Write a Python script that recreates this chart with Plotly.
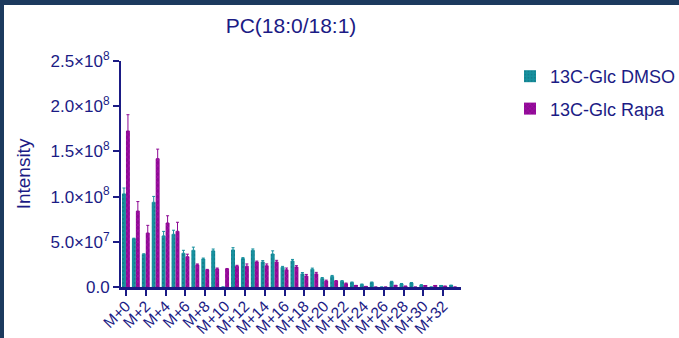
import plotly.graph_objects as go

categories = [f"M+{i}" for i in range(34)]
dmso = [1.03e8, 0.535e8, 0.362e8, 0.937e8, 0.565e8, 0.583e8, 0.373e8, 0.406e8, 0.31e8, 0.40e8,
        0.0, 0.41e8, 0.315e8, 0.406e8, 0.277e8, 0.365e8, 0.218e8, 0.288e8, 0.145e8, 0.196e8,
        0.095e8, 0.118e8, 0.065e8, 0.05e8, 0.028e8, 0.05e8, 0.0, 0.058e8, 0.035e8, 0.046e8,
        0.022e8, 0.0, 0.015e8, 0.018e8]
dmso_err = [0.065e8, 0.005e8, 0.005e8, 0.065e8, 0.05e8, 0.045e8, 0.033e8, 0.035e8, 0.01e8, 0.02e8,
            0.0, 0.025e8, 0.01e8, 0.015e8, 0.015e8, 0.035e8, 0.01e8, 0.017e8, 0.015e8, 0.013e8,
            0.01e8, 0.01e8, 0.005e8, 0.005e8, 0.005e8, 0.005e8, 0.0, 0.005e8, 0.004e8, 0.004e8,
            0.003e8, 0.0, 0.002e8, 0.002e8]
rapa = [1.726e8, 0.84e8, 0.597e8, 1.42e8, 0.708e8, 0.616e8, 0.335e8, 0.245e8, 0.19e8, 0.20e8,
        0.20e8, 0.23e8, 0.23e8, 0.277e8, 0.235e8, 0.277e8, 0.19e8, 0.221e8, 0.122e8, 0.145e8,
        0.066e8, 0.066e8, 0.037e8, 0.015e8, 0.005e8, 0.0, 0.0, 0.016e8, 0.008e8, 0.0,
        0.012e8, 0.015e8, 0.008e8, 0.0]
rapa_err = [0.18e8, 0.105e8, 0.085e8, 0.105e8, 0.08e8, 0.10e8, 0.028e8, 0.01e8, 0.005e8, 0.01e8,
            0.005e8, 0.01e8, 0.025e8, 0.01e8, 0.02e8, 0.018e8, 0.02e8, 0.015e8, 0.017e8, 0.017e8,
            0.01e8, 0.005e8, 0.007e8, 0.003e8, 0.002e8, 0.0, 0.0, 0.003e8, 0.002e8, 0.0,
            0.002e8, 0.002e8, 0.002e8, 0.0]
x_tickvals = categories[::2]
y_tickvals = [0, 0.5e8, 1.0e8, 1.5e8, 2.0e8, 2.5e8]
y_ticktext = ["0.0", "5.0×10<sup>7</sup>", "1.0×10<sup>8</sup>", "1.5×10<sup>8</sup>",
              "2.0×10<sup>8</sup>", "2.5×10<sup>8</sup>"]

NAVY = "#1b1b85"
FONT = "Liberation Sans, Arial, sans-serif"
TEAL = "#17909e"
PURPLE = "#8e0a94"

fig = go.Figure()
fig.add_trace(go.Bar(
    x=categories, y=dmso, name="13C-Glc DMSO", legendgroup="a",
    marker=dict(color=TEAL, line=dict(width=0),
                pattern=dict(shape=".", fgcolor="#0d6f7c", size=4, solidity=0.3)),
    error_y=dict(type="data", array=dmso_err, arrayminus=[0] * len(dmso_err), symmetric=False,
                 color=TEAL, thickness=1, width=1.5),
))
fig.add_trace(go.Bar(
    x=categories, y=rapa, name="13C-Glc Rapa", legendgroup="b",
    marker=dict(color=PURPLE, line=dict(width=0),
                pattern=dict(shape="x", fgcolor="#c818c8", size=4, solidity=0.3)),
    error_y=dict(type="data", array=rapa_err, arrayminus=[0] * len(rapa_err), symmetric=False,
                 color=PURPLE, thickness=1, width=1.5),
))

W, H = 679, 338
L, R, T, B = 121, 218, 61, 51
pw, ph = W - L - R, H - T - B
def px(xp):
    return (xp - L) / pw
def py(yp):
    return 1 - (yp - T) / ph

BORDER = "#1c3a5e"
shapes = [
    dict(type="rect", xref="paper", yref="paper", x0=px(0), x1=px(W), y0=py(5), y1=py(0),
         fillcolor=BORDER, line=dict(width=0), layer="above"),
    dict(type="rect", xref="paper", yref="paper", x0=px(0), x1=px(4), y0=py(H), y1=py(0),
         fillcolor=BORDER, line=dict(width=0), layer="above"),
]

fig.update_layout(
    width=W, height=H,
    margin=dict(l=L, r=R, t=T, b=B, pad=0, autoexpand=False),
    paper_bgcolor="white", plot_bgcolor="white",
    font=dict(family=FONT, color=NAVY, size=17),
    title=dict(text="PC(18:0/18:1)", xref="paper", x=0.5, xanchor="center",
               yref="container", y=1 - 26 / H, yanchor="middle",
               font=dict(size=21, color=NAVY)),
    barmode="group", bargap=0.2, bargroupgap=0,
    showlegend=True,
    legend=dict(x=px(510), y=py(58), xanchor="left", yanchor="top", font=dict(size=18, color=NAVY),
                traceorder="grouped", tracegroupgap=6, bgcolor="rgba(0,0,0,0)"),
    shapes=shapes,
    xaxis=dict(type="category", range=[-0.5, 33.8], tickmode="array", tickvals=x_tickvals,
               ticktext=x_tickvals, tickangle=-45, ticks="outside", ticklen=6, tickwidth=2,
               tickcolor=NAVY, showline=True, linecolor=NAVY, linewidth=3, showgrid=False,
               automargin=False, ticklabelstandoff=-5, tickfont=dict(size=15.5, color=NAVY)),
    yaxis=dict(range=[0, 2.5e8], tickmode="array", tickvals=y_tickvals, ticktext=y_ticktext,
               ticks="outside", ticklen=6, tickwidth=2, tickcolor=NAVY, showline=True,
               linecolor=NAVY, linewidth=2, showgrid=False, zeroline=False, automargin=False,
               tickfont=dict(size=17, color=NAVY),
               title=dict(text="Intensity", font=dict(size=19, color=NAVY), standoff=15)),
)

fig.write_html("out.html")
